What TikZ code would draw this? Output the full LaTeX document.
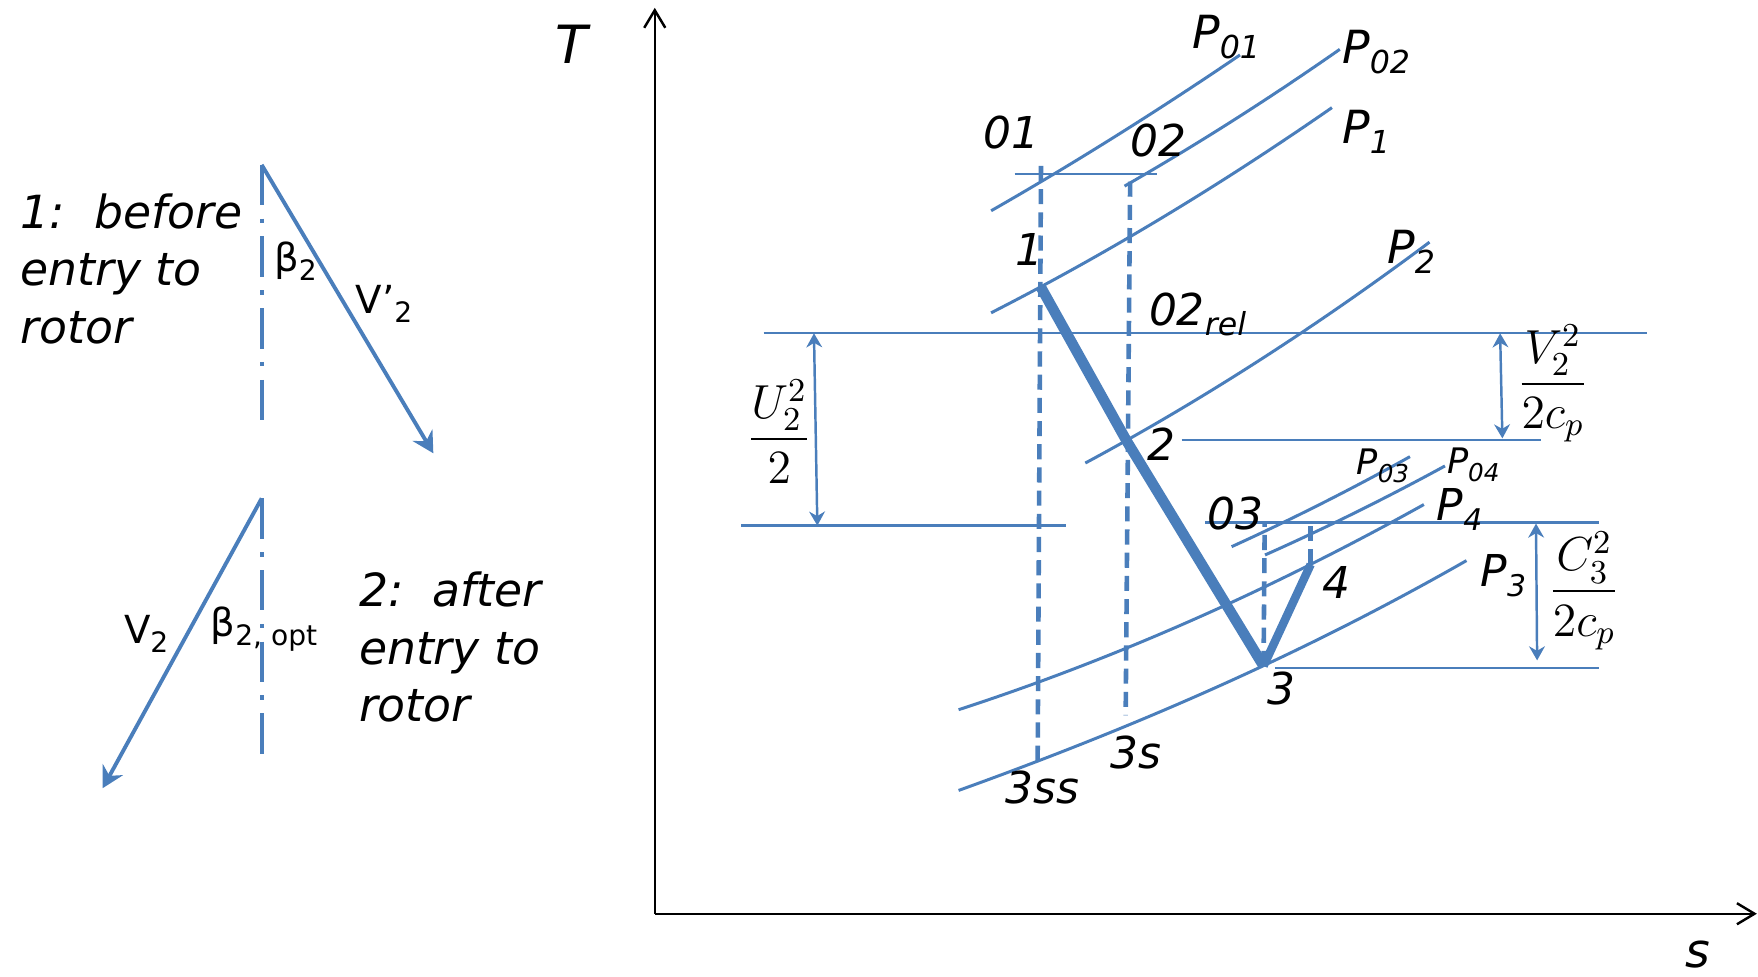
\RequirePackage{fix-cm}
\documentclass[tikz,border=0pt]{standalone}
\usepackage{amsmath}
\usepackage[no-math]{fontspec}
\setmainfont{DejaVu Sans}
\usetikzlibrary{arrows.meta}
\definecolor{isoblue}{HTML}{4A7EBB}
\newcommand{\lowsub}[2][9]{\raisebox{-.23em}{\fontsize{#1}{#1}\selectfont#2}}
\tikzset{isobar/.style={draw=isoblue,line width=0.85pt},tline/.style={draw=isoblue,line width=0.65pt},vdash/.style={draw=isoblue,line width=1.3pt,dash pattern=on 4.3pt off 2.3pt},process/.style={draw=isoblue,line width=3pt},dim/.style={draw=isoblue,line width=0.7pt,{Stealth[length=4pt,width=4.5pt,inset=1.3pt]}-{Stealth[length=4pt,width=4.5pt,inset=1.3pt]}},vel/.style={draw=isoblue,line width=1.1pt,-{Stealth[length=6pt,width=6.5pt,inset=2pt]}},centre/.style={draw=isoblue,line width=1.2pt,dash pattern=on 11.5pt off 3.8pt on 1.3pt off 3.8pt},axisarrow/.style={draw=black,line width=0.7pt,-{Straight Barb[length=5pt,width=6pt]}},lab/.style={inner sep=0pt,anchor=base west,font=\fontsize{12.5}{15}\selectfont\itshape},plab/.style={lab,font=\fontsize{13}{15}\selectfont\itshape},slab/.style={lab,font=\fontsize{10}{12}\selectfont\itshape},txt/.style={inner sep=0pt,anchor=north west,align=left,font=\fontsize{13}{16.4}\selectfont\itshape},ang/.style={inner sep=0pt,anchor=base west,font=\fontsize{11}{13}\selectfont},frc/.style={inner sep=0pt,font=\fontsize{13.6}{16}\selectfont}}

\begin{document}
\begin{tikzpicture}[x=0.011212cm,y=-0.011212cm]
\useasboundingbox (0,0) rectangle (1568,871);
% velocity triangles
\coordinate (ta) at (233.4,147); \coordinate (tb) at (233.4,381);
\coordinate (ua) at (233.4,444.5); \coordinate (ub) at (233.4,678);
\coordinate (va) at (386.5,404.3); \coordinate (vb) at (91.6,703);
\draw[centre] (ta) -- (tb); \draw[centre] (ua) -- (ub);
\draw[vel] (ta) -- (va); \draw[vel] (ua) -- (vb);
\node[txt] (before) at (17.8,171.8) {1:\ \ before\\entry to\\rotor};
\node[txt] (after) at (319.6,509.5) {2:\ \ after\\entry to\\rotor};
\node[ang] (b2) at (244,242) {β\lowsub[8]{2}};
\node[ang] (vrel) at (316.6,279.5) {V’\lowsub[8]{2}};
\node[ang] (vabs) at (110,573.8) {V\lowsub[8]{2}};
\node[ang] (b2opt) at (187.3,568) {β\lowsub[8]{2, opt}};
% T-s axes
\coordinate (O) at (584,815); \coordinate (Ttop) at (584,7); \coordinate (send) at (1567,815);
\draw[axisarrow] (O) -- (Ttop); \draw[axisarrow] (O) -- (send);
\node[lab,font=\fontsize{15}{17}\selectfont\itshape] (T) at (495,56.5) {T};
\node[lab,font=\fontsize{13.5}{16}\selectfont\itshape] (s) at (1503,863) {s};
% states
\coordinate (o1) at (928.5,148); \coordinate (o2) at (1008,162);
\coordinate (p1) at (928,255.5); \coordinate (p2) at (1005,393.5);
\coordinate (p3) at (1127,594); \coordinate (p4) at (1169,503.5);
\coordinate (p3s) at (1004,638); \coordinate (p3ss) at (925.5,679);
\coordinate (o3) at (1128,466); \coordinate (o4) at (1169,466);
% isobars
\draw[isobar] (884,188) .. controls (958,145.7) and (1032,99.3) .. (1106,49);
\draw[isobar] (1003,166) .. controls (1067,129.3) and (1131,88.7) .. (1195,44);
\draw[isobar] (884,279) .. controls (985.3,227.3) and (1086.7,166.3) .. (1188,96);
\draw[isobar] (968,413) .. controls (1070.3,358) and (1172.7,292.4) .. (1275,216);
\draw[isobar] (1098.5,487.6) .. controls (1151.5,463.5) and (1204.6,436.8) .. (1257.6,407.3);
\draw[isobar] (1128.3,495) .. controls (1181.8,471.2) and (1235.3,444.8) .. (1288.8,415.6);
\draw[isobar] (855,633) .. controls (993.3,588) and (1131.7,527) .. (1270,450);
\draw[isobar] (855,705) .. controls (1006,650.7) and (1157,586.3) .. (1308,500);
% levels
\draw[tline] (905,155) -- (1032,155);
\draw[tline] (681,297.3) -- (1469,297.3);
\draw[tline] (661,468.8) -- (951,468.8);
\draw[tline] (1054,392.4) -- (1374,392.4);
\draw[tline] (1075,466) -- (1426,466);
\draw[tline] (1137,596) -- (1426,596);
% isentropes and process
\draw[vdash] (o1) -- (p3ss); \draw[vdash] (o2) -- (p3s);
\draw[vdash] (p3) -- (o3); \draw[vdash] (p4) -- (o4);
\draw[process] (p1) -- (p2) -- (p3);
\draw[process,line width=2.4pt] (p3) -- (p4);
% kinetic energy heads
\coordinate (u1) at (726,297.3); \coordinate (u2) at (729,468.8);
\coordinate (w1) at (1338,297.3); \coordinate (w2) at (1340,391);
\coordinate (c1) at (1370,467); \coordinate (c2) at (1371,589);
\draw[dim] (u1) -- (u2); \draw[dim] (w1) -- (w2); \draw[dim] (c1) -- (c2);
\node[frc] (ufrac) at (695,385) {$\dfrac{U_2^2}{2}$};
\node[frc] (vfrac) at (1385,342) {$\dfrac{V_2^2}{2c_p}$};
\node[frc] (cfrac) at (1413,527) {$\dfrac{C_3^2}{2c_p}$};
% labels
\node[lab] (l01) at (877,132.3) {01};
\node[lab] (l02) at (1008,139.8) {02};
\node[lab] (l1) at (905.3,236.4) {1};
\node[lab] (l02r) at (1024.2,289.9) {02\lowsub{rel}};
\node[lab] (l2) at (1022.7,410.9) {2};
\node[lab] (l03) at (1076,472.7) {03};
\node[lab] (l4) at (1178.8,533.6) {4};
\node[lab] (l3) at (1129.8,628.8) {3};
\node[lab] (l3s) at (990,685.3) {3s};
\node[lab] (l3ss) at (896.4,717.1) {3ss};
\node[plab] (lp01) at (1062.8,43.1) {P\lowsub{01}};
\node[plab] (lp02) at (1196.6,56.5) {P\lowsub{02}};
\node[plab] (lp1) at (1196.6,127.8) {P\lowsub{1}};
\node[plab] (lp2) at (1236.8,234.9) {P\lowsub{2}};
\node[slab] (lp03) at (1209.4,422.8) {P\lowsub[7]{03}};
\node[slab] (lp04) at (1290,422) {P\lowsub[7]{04}};
\node[lab] (lp4) at (1281,463.8) {P\lowsub[8.5]{4}};
\node[lab] (lp3) at (1320,523.3) {P\lowsub[8.5]{3}};
\end{tikzpicture}
\end{document}
